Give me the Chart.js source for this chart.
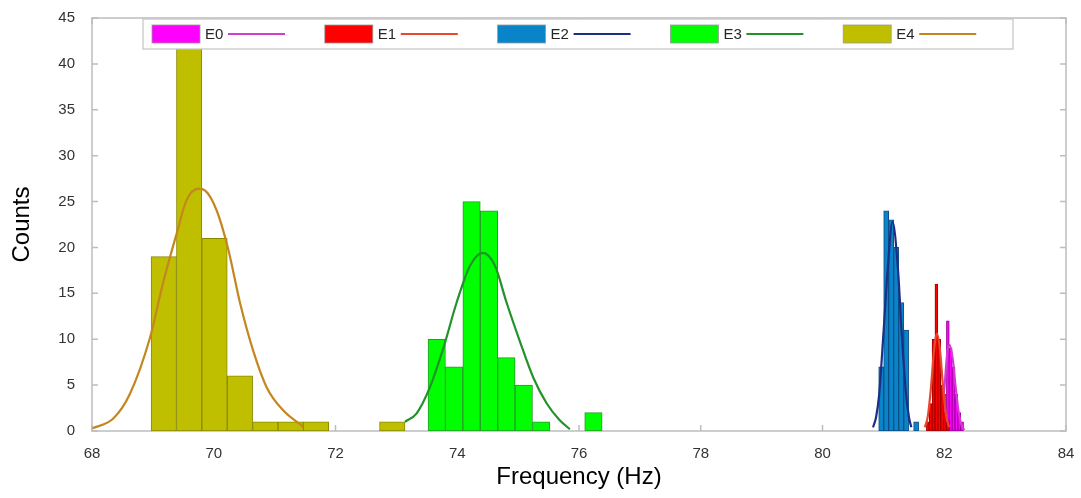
<!DOCTYPE html>
<html>
<head>
<meta charset="utf-8">
<script src="https://cdn.jsdelivr.net/npm/chart.js@4.4.0/dist/chart.umd.min.js"></script>
<style>
html,body{margin:0;padding:0;background:#fff;}
canvas{display:block;}
</style>
</head>
<body>
<canvas id="c" width="1081" height="498"></canvas>
<script>
// ---------------- data ----------------
const groups = ['E0', 'E1', 'E2', 'E3', 'E4'];
const xTickValues = [68, 70, 72, 74, 76, 78, 80, 82, 84];
const yTickValues = [0, 5, 10, 15, 20, 25, 30, 35, 40, 45];

// histogram bin centres (Hz) and counts
const e0Centers = [81.965, 82.012, 82.059, 82.106, 82.153, 82.200, 82.247, 82.294];
const e0Counts  = [1, 4, 12, 9, 7, 4, 2, 1];
const e1Centers = [81.730, 81.777, 81.824, 81.871, 81.918, 81.965, 82.012, 82.059];
const e1Counts  = [1, 3, 10, 16, 10, 5, 2, 1];
const e2Centers = [80.964, 81.046, 81.128, 81.210, 81.292, 81.374, 81.456, 81.538];
const e2Counts  = [7, 24, 23, 20, 14, 11, null, 1];
const e3Centers = [73.663, 73.949, 74.235, 74.521, 74.807, 75.093, 75.379, 75.665, 75.951, 76.237];
const e3Counts  = [10, 7, 25, 24, 8, 5, 1, null, null, 2];
const e4Centers = [69.179, 69.596, 70.013, 70.430, 70.847, 71.264, 71.681, 72.098, 72.515, 72.932];
const e4Counts  = [19, 42, 21, 6, 1, 1, 1, null, null, 1];

// fitted curves
const e0FitX = [81.90, 81.95, 82.00, 82.05, 82.09, 82.14, 82.19, 82.24, 82.29, 82.33];
const e0FitY = [0.3, 1.5, 4.5, 8.5, 9.4, 7.8, 4.6, 1.9, 0.5, 0.1];
const e1FitX = [81.68, 81.73, 81.78, 81.83, 81.88, 81.93, 81.98, 82.03, 82.08];
const e1FitY = [0.4, 1.6, 4.6, 8.6, 10.6, 8.8, 4.8, 1.7, 0.4];
const e2FitX = [80.83, 80.88, 80.93, 81.00, 81.07, 81.15, 81.24, 81.30, 81.37, 81.42, 81.46];
const e2FitY = [0.4, 1.5, 3.9, 10.5, 17.6, 22.8, 17.6, 10.8, 4.2, 1.5, 0.4];
const e3FitX = [73.14, 73.33, 73.55, 73.77, 73.99, 74.21, 74.42, 74.62, 74.81, 75.03, 75.25, 75.47, 75.68, 75.85];
const e3FitY = [1.0, 1.9, 4.75, 9.0, 14.0, 18.0, 19.4, 18.0, 14.0, 9.75, 5.8, 3.0, 1.2, 0.2];
const e4FitX = [68.01, 68.35, 68.62, 68.95, 69.17, 69.39, 69.55, 69.75, 69.86, 70.05, 70.24, 70.43, 70.65, 70.87, 71.14, 71.47];
const e4FitY = [0.29, 1.36, 4.0, 10.1, 16.2, 21.5, 25.1, 26.4, 26.2, 24.0, 19.75, 14.0, 8.7, 4.75, 2.25, 0.46];

// ---------------- styles ----------------
const barFill   = ['#ff00ff', '#ff0000', '#0a84c8', '#00ff00', '#bfbf00'];
const barEdge   = ['#a000a0', '#a00000', '#0b4f86', '#2a9a2a', '#8a8a00'];
const fitColor  = ['#d23cd2', '#e8482e', '#1c2f86', '#22922a', '#c4861f'];
const FONT = "'Liberation Sans', Arial, Helvetica, sans-serif";

const centers = [e0Centers, e1Centers, e2Centers, e3Centers, e4Centers];
const counts  = [e0Counts, e1Counts, e2Counts, e3Counts, e4Counts];
const fitXs   = [e0FitX, e1FitX, e2FitX, e3FitX, e4FitX];
const fitYs   = [e0FitY, e1FitY, e2FitY, e3FitY, e4FitY];

const datasets = [];
groups.forEach((g, i) => {
  datasets.push({
    type: 'bar',
    label: g,
    group: g, kind: 'bar',
    xAxisID: 'xb' + i,
    data: centers[i].map((c, k) => ({x: c, y: counts[i][k]})),
    backgroundColor: barFill[i],
    borderColor: barEdge[i],
    borderWidth: 1,
    borderSkipped: false,
    grouped: false,
    barPercentage: 1,
    categoryPercentage: 1,
    order: 9 - 2 * i
  });
  datasets.push({
    type: 'line',
    label: g + ' fit',
    group: g, kind: 'fit',
    xAxisID: 'x',
    data: fitXs[i].map((xv, k) => ({x: xv, y: fitYs[i][k]})),
    borderColor: fitColor[i],
    borderWidth: 2.2,
    pointRadius: 0,
    fill: false,
    cubicInterpolationMode: 'monotone',
    order: 8 - 2 * i
  });
});

// one invisible x scale per histogram, so each gets its own bin width
function binScale() {
  return {
    type: 'linear', axis: 'x', position: 'bottom', display: true,
    min: 68, max: 84, offset: false,
    ticks: {display: false}, grid: {display: false}, border: {display: false},
    title: {display: false},
    afterFit: s => { s.height = 0; }
  };
}

const framePlugin = {
  id: 'frame',
  beforeDatasetsDraw(chart) {
    const {ctx, chartArea: a, scales} = chart;
    const x = scales.x, y = scales.y;
    ctx.save();
    ctx.strokeStyle = '#bdbdbd';
    ctx.lineWidth = 1.5;
    ctx.strokeRect(a.left, a.top, a.right - a.left, a.bottom - a.top);
    ctx.beginPath();
    const L = 6;
    x.ticks.forEach(t => {
      const px = x.getPixelForValue(t.value);
      ctx.moveTo(px, a.bottom); ctx.lineTo(px, a.bottom - L);
      ctx.moveTo(px, a.top); ctx.lineTo(px, a.top + L);
    });
    y.ticks.forEach(t => {
      const py = y.getPixelForValue(t.value);
      ctx.moveTo(a.left, py); ctx.lineTo(a.left + L, py);
      ctx.moveTo(a.right, py); ctx.lineTo(a.right - L, py);
    });
    ctx.stroke();
    ctx.restore();
  }
};

const legendPlugin = {
  id: 'boxLegend',
  afterDatasetsDraw(chart) {
    const {ctx} = chart;
    const ds = chart.data.datasets;
    const boxL = 143, boxT = 19, boxW = 870, boxH = 30;
    ctx.save();
    ctx.fillStyle = '#ffffff';
    ctx.fillRect(boxL, boxT, boxW, boxH);
    ctx.strokeStyle = '#c4c4c4';
    ctx.lineWidth = 1.2;
    ctx.strokeRect(boxL, boxT, boxW, boxH);
    ctx.font = '15px ' + FONT;
    ctx.textBaseline = 'middle';
    const midY = boxT + boxH / 2;
    groups.forEach((g, i) => {
      const bar = ds.find(d => d.group === g && d.kind === 'bar');
      const fit = ds.find(d => d.group === g && d.kind === 'fit');
      const x0 = 152 + i * 172.8;
      ctx.fillStyle = bar.backgroundColor;
      ctx.fillRect(x0, midY - 9, 48, 18);
      ctx.strokeStyle = '#9a9a9a';
      ctx.lineWidth = 0.8;
      ctx.strokeRect(x0, midY - 9, 48, 18);
      ctx.fillStyle = '#262626';
      ctx.textAlign = 'left';
      ctx.fillText(g, x0 + 53, midY + 1);
      ctx.strokeStyle = fit.borderColor;
      ctx.lineWidth = 2.2;
      ctx.beginPath();
      ctx.moveTo(x0 + 76, midY);
      ctx.lineTo(x0 + 133, midY);
      ctx.stroke();
    });
    ctx.restore();
  }
};

new Chart(document.getElementById('c'), {
  type: 'bar',
  data: {datasets},
  options: {
    responsive: false,
    animation: false,
    devicePixelRatio: 1,
    layout: {padding: {left: 0, right: 15, top: 11, bottom: 0}},
    plugins: {legend: {display: false}, tooltip: {enabled: false}},
    scales: {
      x: {
        type: 'linear', position: 'bottom', min: 68, max: 84, offset: false,
        afterBuildTicks: s => { s.ticks = xTickValues.map(v => ({value: v})); },
        ticks: {color: '#333', font: {family: FONT, size: 15}, padding: 6, maxRotation: 0, autoSkip: false},
        grid: {display: false},
        border: {display: false},
        title: {display: true, text: 'Frequency (Hz)', color: '#000', font: {family: FONT, size: 24}, padding: {top: 0, bottom: 6}},
        afterFit: s => { s.height = 67; }
      },
      xb0: binScale(), xb1: binScale(), xb2: binScale(), xb3: binScale(), xb4: binScale(),
      y: {
        type: 'linear', position: 'left', min: 0, max: 45,
        afterBuildTicks: s => { s.ticks = yTickValues.map(v => ({value: v})); },
        ticks: {color: '#333', font: {family: FONT, size: 15}, padding: 9},
        grid: {display: false},
        border: {display: false},
        title: {display: true, text: 'Counts', color: '#000', font: {family: FONT, size: 24}, padding: {top: 8, bottom: 0}},
        afterFit: s => { s.width = 92; }
      }
    }
  },
  plugins: [framePlugin, legendPlugin]
});
</script>
</body>
</html>
